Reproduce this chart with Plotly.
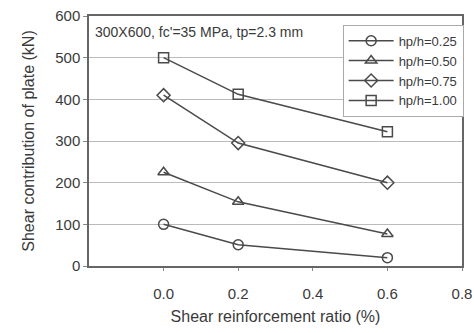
import plotly.graph_objects as go

x_vals = [0.0, 0.2, 0.6]
s025 = [100, 51, 20]
s050 = [225, 154, 77]
s075 = [410, 295, 200]
s100 = [500, 412, 322]
names = ["hp/h=0.25", "hp/h=0.50", "hp/h=0.75", "hp/h=1.00"]
symbols = ["circle-open", "triangle-up-open", "diamond-open", "square-open"]
series = [s025, s050, s075, s100]

col = "#4a4a4a"
fig = go.Figure()
for nm, sy, ys in zip(names, symbols, series):
    fig.add_trace(go.Scatter(
        x=x_vals, y=ys, name=nm, mode="lines+markers",
        line=dict(color=col, width=1.5),
        marker=dict(symbol=sy, size=10, color=col, line=dict(color=col, width=1.5)),
    ))

font = dict(family="Liberation Sans, Arial, sans-serif", color="#3a3a3a")
fig.update_layout(
    width=474, height=333,
    margin=dict(l=89, r=12, t=16, b=67, autoexpand=False),
    paper_bgcolor="white", plot_bgcolor="white",
    font=dict(**font, size=14),
    showlegend=True,
    legend=dict(x=0.68, y=0.965, xanchor="left", yanchor="top",
                bgcolor="white", bordercolor="#aaaaaa", borderwidth=1,
                font=dict(size=13, **font), tracegroupgap=0, itemwidth=45),
    xaxis=dict(range=[-0.2, 0.8], tickvals=[0.0, 0.2, 0.4, 0.6, 0.8],
               ticktext=["0.0", "0.2", "0.4", "0.6", "0.8"],
               showgrid=False, zeroline=False, showline=True, linecolor="#666666",
               linewidth=1.5, mirror=True, ticks="outside", ticklen=3, tickcolor="#888888",
               ticklabelstandoff=10, tickfont=dict(size=15, **font),
               title=dict(text="Shear reinforcement ratio (%)", font=dict(size=16, **font), standoff=10)),
    yaxis=dict(range=[0, 600], tickvals=[0, 100, 200, 300, 400, 500, 600],
               showgrid=True, gridcolor="#bbbbbb", gridwidth=1, zeroline=False,
               showline=True, linecolor="#666666", linewidth=1.5, mirror=True,
               ticks="outside", ticklen=4, tickcolor="#888888",
               tickfont=dict(size=15, **font),
               title=dict(text="Shear contribution of plate (kN)", font=dict(size=16, **font), standoff=17)),
    annotations=[dict(text="300X600, fc'=35 MPa, tp=2.3 mm", x=0.012, y=0.975, xref="paper", yref="paper",
                      xanchor="left", yanchor="top", showarrow=False, font=dict(size=14, **font))],
)
fig.write_html("out.html")
